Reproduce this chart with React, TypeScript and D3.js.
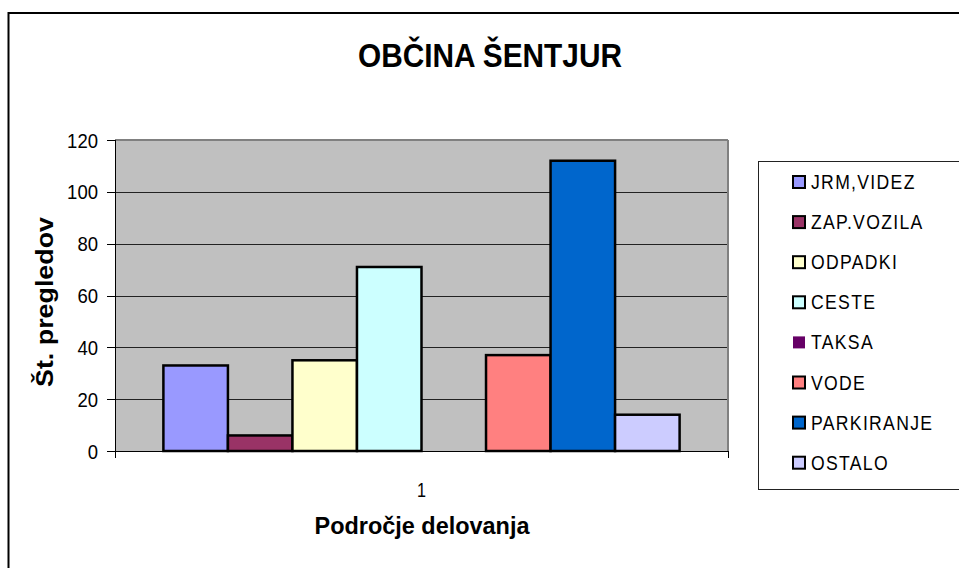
import React from 'react';
import * as d3 from 'd3';

const seriesNames = ['JRM,VIDEZ', 'ZAP.VOZILA', 'ODPADKI', 'CESTE', 'TAKSA', 'VODE', 'PARKIRANJE', 'OSTALO'];
const seriesValues = [33, 6, 35, 71, 0, 37, 112, 14];
const seriesColors = ['#9999FF', '#993366', '#FFFFCC', '#CCFFFF', '#660066', '#FF8080', '#0066CC', '#CCCCFF'];
const categories = ['1'];
const yTicks = [0, 20, 40, 60, 80, 100, 120];

const W = 959;
const H = 568;
const plot = { left: 115, right: 728, top: 140, bottom: 451 };
const font = "'Liberation Sans', Arial, sans-serif";

export default function App() {
  const x0 = d3.scaleBand().domain(categories).range([plot.left, plot.right]).paddingInner(0).paddingOuter(0);
  // Excel gap width 150% => 0.75 bar width on each side
  const groupW = x0.bandwidth();
  const barW = groupW / (seriesNames.length + 1.5);
  const x1 = d3.scaleBand().domain(seriesNames).range([0, barW * seriesNames.length]);
  const y = d3.scaleLinear().domain([0, 120]).range([plot.bottom, plot.top]);

  return (
    <svg width={W} height={H} style={{ position: 'absolute', left: 0, top: 0, background: '#fff' }} fontFamily={font}>
      {/* outer frame */}
      <rect x={8.5} y={13} width={1000} height={600} fill="#fff" stroke="#000" strokeWidth={2} />

      <text x={490} y={67} textAnchor="middle" fontSize={34} fontWeight="bold" textLength={264} lengthAdjust="spacingAndGlyphs">
        OBČINA ŠENTJUR
      </text>

      {/* plot area */}
      <rect x={plot.left} y={plot.top} width={plot.right - plot.left} height={plot.bottom - plot.top} fill="#C0C0C0" />
      {yTicks.slice(1, -1).map(t => (
        <line key={t} x1={plot.left} x2={plot.right} y1={Math.round(y(t)) + 0.5} y2={Math.round(y(t)) + 0.5} stroke="#222" strokeWidth={1} />
      ))}
      <line x1={plot.left} x2={plot.right} y1={plot.top} y2={plot.top} stroke="#808080" strokeWidth={2} />
      <line x1={plot.right} x2={plot.right} y1={plot.top} y2={plot.bottom} stroke="#808080" strokeWidth={2} />

      {/* bars */}
      {categories.map(c => (
        <g key={c} transform={`translate(${(x0(c) as number) + barW * 0.75},0)`}>
          {seriesNames.map((s, i) =>
            seriesValues[i] > 0 ? (
              <rect
                key={s}
                x={x1(s) as number}
                y={y(seriesValues[i])}
                width={x1.bandwidth()}
                height={y(0) - y(seriesValues[i])}
                fill={seriesColors[i]}
                stroke="#000"
                strokeWidth={2.5}
              />
            ) : null
          )}
        </g>
      ))}

      {/* axes */}
      <line x1={plot.left + 0.5} x2={plot.left + 0.5} y1={plot.top} y2={plot.bottom + 7} stroke="#000" />
      <line x1={plot.left - 8} x2={plot.right} y1={plot.bottom + 0.5} y2={plot.bottom + 0.5} stroke="#000" />
      <line x1={plot.right + 0.5} x2={plot.right + 0.5} y1={plot.bottom} y2={plot.bottom + 7} stroke="#000" />
      {yTicks.map(t => (
        <g key={t}>
          <line x1={plot.left - 8} x2={plot.left} y1={Math.round(y(t)) + 0.5} y2={Math.round(y(t)) + 0.5} stroke="#000" />
          <text x={98} y={y(t) + 7.5} textAnchor="end" fontSize={21} textLength={String(t).length * 10.3} lengthAdjust="spacingAndGlyphs">
            {t}
          </text>
        </g>
      ))}
      {categories.map(c => (
        <text key={c} x={(x0(c) as number) + groupW / 2} y={497} textAnchor="middle" fontSize={20} textLength={9} lengthAdjust="spacingAndGlyphs">
          {c}
        </text>
      ))}

      <text x={422} y={534} textAnchor="middle" fontSize={23} fontWeight="bold" textLength={215} lengthAdjust="spacingAndGlyphs">
        Področje delovanja
      </text>
      <text transform="translate(53,302) rotate(-90)" textAnchor="middle" fontSize={23} fontWeight="bold" textLength={170} lengthAdjust="spacingAndGlyphs">
        Št. pregledov
      </text>

      {/* legend */}
      <rect x={758.5} y={161.5} width={260} height={328} fill="#fff" stroke="#222" strokeWidth={1} />
      {seriesNames.map((s, i) => {
        const cy = 182 + i * 40.1;
        return (
          <g key={s}>
            <rect
              x={793}
              y={cy - 6}
              width={12}
              height={12}
              fill={seriesColors[i]}
              stroke={seriesValues[i] > 0 ? '#000' : 'none'}
              strokeWidth={2}
            />
            <text transform={`translate(811,${cy + 7}) scale(0.88,1)`} fontSize={20} letterSpacing={1.5}>
              {s}
            </text>
          </g>
        );
      })}
    </svg>
  );
}
